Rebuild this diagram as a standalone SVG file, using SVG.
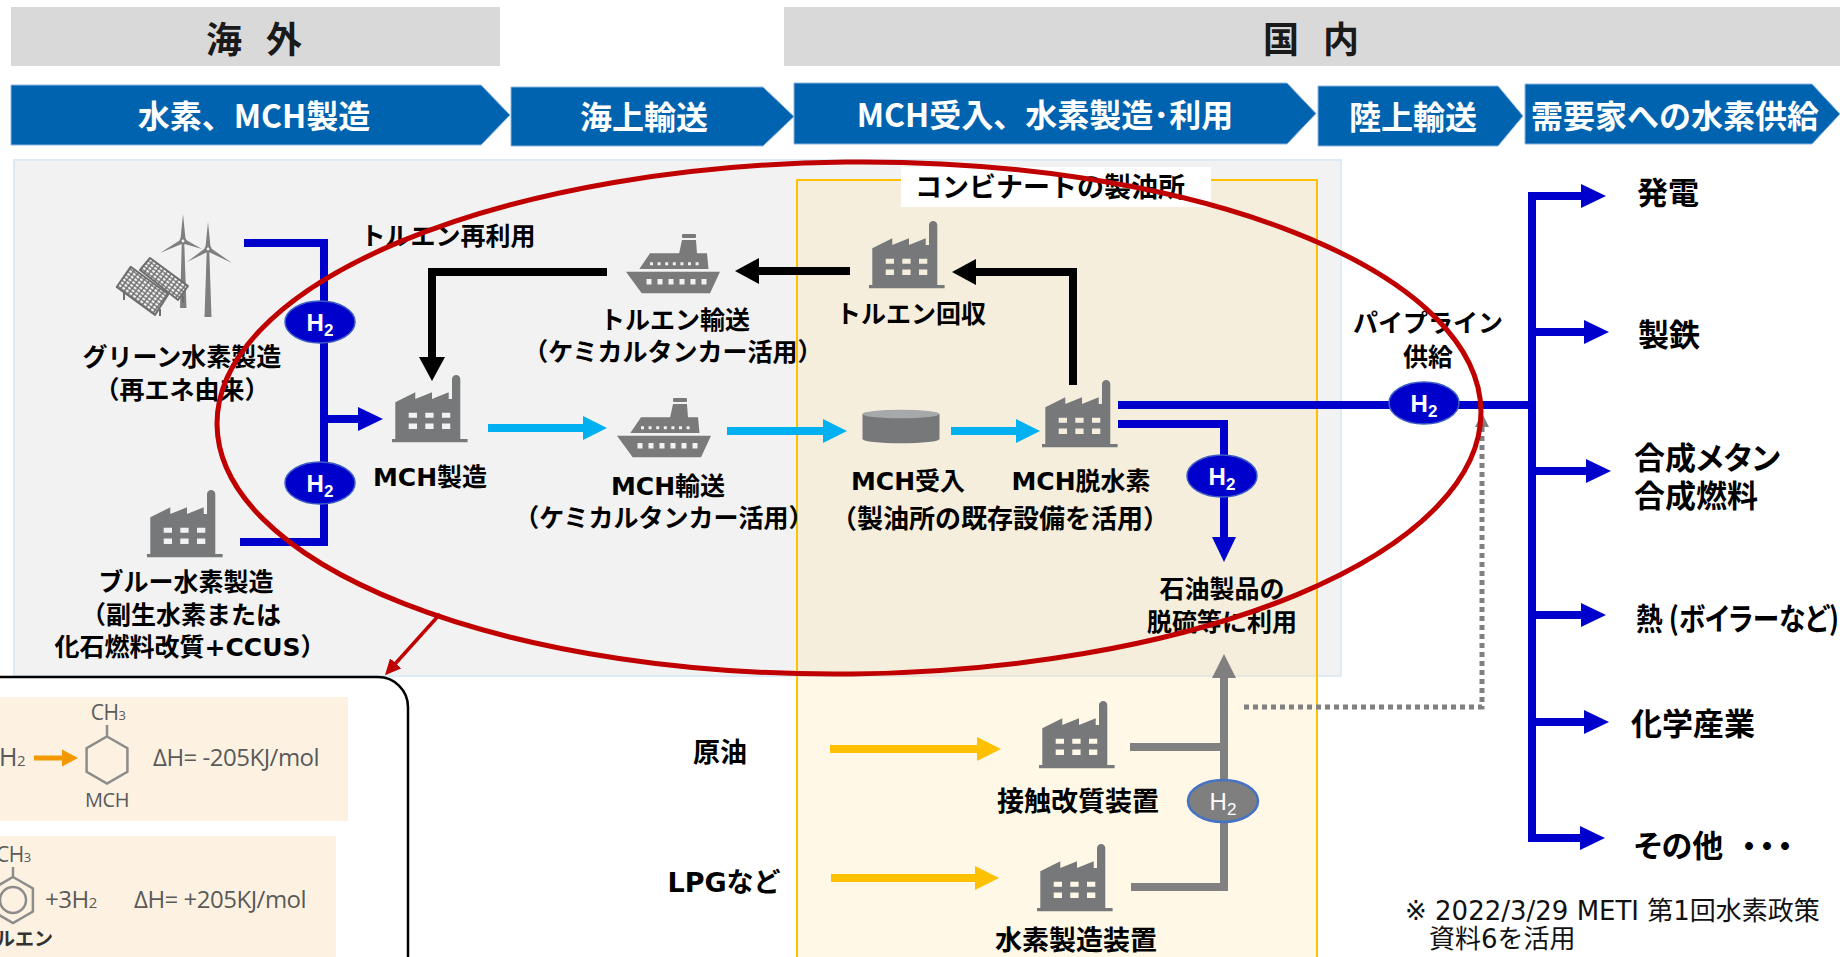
<svg xmlns="http://www.w3.org/2000/svg" width="1840" height="957" viewBox="0 0 1840 957">
  <defs>
    <style>
      text { font-family: "Noto Sans CJK JP", "Noto Sans", sans-serif; }
      .hdr { font-size: 36px; font-weight: 700; fill: #1a1a1a; text-anchor: middle; dominant-baseline: central; }
      .band { fill: #0063b0; stroke: #8db4e2; stroke-width: 1; }
      .bandt { font-size: 32px; font-weight: 700; fill: #fff; text-anchor: middle; dominant-baseline: central; }
      .lbl { font-family: "DejaVu Sans", "Noto Sans CJK JP", sans-serif; font-size: 25px; font-weight: 700; fill: #000; text-anchor: middle; dominant-baseline: central; }
      .lbl27 { font-size: 27px; }
      .use { font-size: 31px; font-weight: 700; fill: #000; dominant-baseline: central; font-feature-settings: "palt"; }
      .note { font-family: "DejaVu Sans", "Noto Sans CJK JP", sans-serif; font-size: 26px; fill: #111; }
      .icon { fill: #76787a; fill-rule: evenodd; }
      .ln { fill: none; stroke-width: 8; stroke-linejoin: miter; stroke-linecap: butt; }
      .blue { stroke: #0000cc; }
      .black { stroke: #000; }
      .cyan { stroke: #00b0f0; }
      .yellow { stroke: #ffc000; }
      .gray { stroke: #808080; }
      .h2 { fill: #0000cc; stroke: #3b5cc4; stroke-width: 1.5; }
      .h2g { fill: #7f7f7f; stroke: #4472c4; stroke-width: 2.5; }
      .h2t { font-family: "Liberation Sans", Arial, sans-serif; font-size: 24px; font-weight: 700; fill: #fff; text-anchor: middle; }
      .h2gt { font-family: "Liberation Sans", Arial, sans-serif; font-size: 24px; font-weight: 400; fill: #fff; text-anchor: middle; }
      .sub { font-size: 17px; }
      .rx { font-family: "Open Sans", "Noto Sans", sans-serif; font-size: 24px; fill: #5a5a5a; letter-spacing: -0.5px; }
      .rxs { font-size: 15px; }
      .ring { fill: none; stroke: #8c8c8c; stroke-width: 2.5; }
    </style>

    <marker id="ah-blue" viewBox="0 0 25 24" markerWidth="25" markerHeight="24" refX="1" refY="12" orient="auto" markerUnits="userSpaceOnUse">
      <path d="M0,0 L25,12 L0,24 Z" fill="#0000cc"/>
    </marker>
    <marker id="ah-black" viewBox="0 0 24 26" markerWidth="24" markerHeight="26" refX="1" refY="13" orient="auto" markerUnits="userSpaceOnUse">
      <path d="M0,0 L24,13 L0,26 Z" fill="#000"/>
    </marker>
    <marker id="ah-cyan" viewBox="0 0 24 24" markerWidth="24" markerHeight="24" refX="1" refY="12" orient="auto" markerUnits="userSpaceOnUse">
      <path d="M0,0 L24,12 L0,24 Z" fill="#00b0f0"/>
    </marker>
    <marker id="ah-yellow" viewBox="0 0 24 24" markerWidth="24" markerHeight="24" refX="1" refY="12" orient="auto" markerUnits="userSpaceOnUse">
      <path d="M0,0 L24,12 L0,24 Z" fill="#ffc000"/>
    </marker>
    <marker id="ah-gray" viewBox="0 0 24 24" markerWidth="24" markerHeight="24" refX="1" refY="12" orient="auto" markerUnits="userSpaceOnUse">
      <path d="M0,0 L24,12 L0,24 Z" fill="#808080"/>
    </marker>
    <marker id="ah-dot" viewBox="0 0 14 14" markerWidth="14" markerHeight="14" refX="1" refY="7" orient="auto" markerUnits="userSpaceOnUse">
      <path d="M0,0 L14,7 L0,14 Z" fill="#808080"/>
    </marker>
    <marker id="ah-red" viewBox="0 0 16 15" markerWidth="16" markerHeight="15" refX="1" refY="7.5" orient="auto" markerUnits="userSpaceOnUse">
      <path d="M0,0 L16,7.5 L0,15 Z" fill="#c00000"/>
    </marker>

    <!-- solar cell grid -->
    <pattern id="pv-cells" width="4.5" height="3.5" patternUnits="userSpaceOnUse" patternTransform="rotate(37)">
      <rect width="4.5" height="3.5" fill="#6e6e6e"/>
      <rect x="0.8" y="0.7" width="3" height="2.2" fill="#f4f4f4"/>
    </pattern>

    <!-- plant icon: sawtooth roof, chimney, two rows of windows -->
    <symbol id="plant" viewBox="0 0 76 68" width="76" height="68">
      <path class="icon" d="M0,64 H3.3 V27.3 L23.3,17.3 V24 L40,17.3 V24 L56.7,17.3 V24 H60 V4.2 A4.15,4.15 0 0 1 68.3,4.2 V64 H75.6 V67.3 H0 Z
        M16.7,37.7 h8.3 v5 h-8.3 Z M33.3,37.7 h8.3 v5 h-8.3 Z M50,37.7 h8.3 v5 h-8.3 Z
        M16.7,48.5 h8.3 v5.5 h-8.3 Z M33.3,48.5 h8.3 v5.5 h-8.3 Z M50,48.5 h8.3 v5.5 h-8.3 Z"/>
    </symbol>

    <!-- tanker icon -->
    <symbol id="tanker" viewBox="0 0 94 60" width="94" height="60">
      <g fill="#7a7a7a" fill-rule="evenodd">
        <rect x="56" y="0" width="14" height="4" rx="1"/>
        <polygon points="53,20 56,6 70,6 71,20"/>
        <path d="M13.3,35 L24,19.3 H81 L82.5,35 Z
          M24,28.3 h3 v3 h-3 Z M31.6,28.3 h3 v3 h-3 Z M39.2,28.3 h3 v3 h-3 Z M46.8,28.3 h3 v3 h-3 Z
          M54.4,28.3 h3 v3 h-3 Z M62,28.3 h3 v3 h-3 Z M69.6,28.3 h3 v3 h-3 Z"/>
        <path d="M0,37.7 H94 L84,59.3 H15.7 Z
          M20.5,45 h5 v5.5 h-5 Z M31.5,45 h5 v5.5 h-5 Z M42.5,45 h5 v5.5 h-5 Z
          M53.5,45 h5 v5.5 h-5 Z M64.5,45 h5 v5.5 h-5 Z M75.5,45 h5 v5.5 h-5 Z"/>
      </g>
    </symbol>
  </defs>

  <rect width="1840" height="957" fill="#fff"/>

  <!-- region headers -->
  <g id="header-overseas">
    <rect x="11" y="7" width="489" height="59" fill="#d9d9d9"/>
    <text class="hdr" x="258" y="37" letter-spacing="8">海 外</text>
  </g>
  <g id="header-domestic">
    <rect x="784" y="7" width="1056" height="59" fill="#d9d9d9"/>
    <text class="hdr" x="1315" y="37" letter-spacing="8">国 内</text>
  </g>

  <!-- process stages -->
  <g id="stage-production">
    <polygon class="band" points="11,85 481,85 510,115 481,145 11,145"/>
    <text class="bandt" x="254" y="114">水素、MCH製造</text>
  </g>
  <g id="stage-sea">
    <polygon class="band" points="511,87 763,87 794,116.5 763,146 511,146"/>
    <text class="bandt" x="644" y="115">海上輸送</text>
  </g>
  <g id="stage-refinery">
    <polygon class="band" points="794,83 1287,83 1316,113.5 1287,144 794,144"/>
    <text class="bandt" x="1045" y="113">MCH受入、水素製造･利用</text>
  </g>
  <g id="stage-land">
    <polygon class="band" points="1318,86 1498,86 1523,116 1498,146 1318,146"/>
    <text class="bandt" x="1413" y="115">陸上輸送</text>
  </g>
  <g id="stage-demand">
    <polygon class="band" points="1525,84 1812,84 1840,114 1812,144 1525,144"/>
    <text class="bandt" x="1675" y="114">需要家への水素供給</text>
  </g>

  <!-- supply chain area and refinery complex -->
  <g id="chain-area">
    <rect x="14" y="160" width="1327" height="516" fill="#f2f2f2" stroke="#ddebf7" stroke-width="2"/>
  </g>
  <g id="refinery-complex">
    <rect x="797" y="180" width="520" height="800" fill="#ffe49a" fill-opacity="0.25" stroke="#ffc000" stroke-width="2"/>
    <rect x="901" y="167" width="310" height="40" fill="#fff"/>
    <text class="lbl" x="1050" y="187" style="font-size:27px">コンビナートの製油所</text>
  </g>

  <!-- connectors -->
  <g id="connectors">
    <!-- hydrogen into MCH production -->
    <path class="ln blue" d="M244,243 H324 V542 H240"/>
    <path class="ln blue" d="M324,419 H359" marker-end="url(#ah-blue)"/>
    <!-- toluene return loop -->
    <path class="ln black" d="M607,272 H432 V358" marker-end="url(#ah-black)"/>
    <path class="ln black" d="M850,271 H758" marker-end="url(#ah-black)"/>
    <path class="ln black" d="M1073,385 V272 H975" marker-end="url(#ah-black)"/>
    <!-- MCH flow -->
    <path class="ln cyan" d="M488,428 H584" marker-end="url(#ah-cyan)"/>
    <path class="ln cyan" d="M727,431 H824" marker-end="url(#ah-cyan)"/>
    <path class="ln cyan" d="M951,431 H1017" marker-end="url(#ah-cyan)"/>
    <!-- hydrogen out of dehydrogenation -->
    <path class="ln blue" d="M1118,405 H1532"/>
    <path class="ln blue" d="M1118,424 H1224 V538" marker-end="url(#ah-blue)"/>
    <!-- distribution trunk -->
    <path class="ln blue" d="M1532,192 V842"/>
    <path class="ln blue" d="M1528,196 H1582" marker-end="url(#ah-blue)"/>
    <path class="ln blue" d="M1528,332 H1585" marker-end="url(#ah-blue)"/>
    <path class="ln blue" d="M1528,471 H1587" marker-end="url(#ah-blue)"/>
    <path class="ln blue" d="M1528,615 H1582" marker-end="url(#ah-blue)"/>
    <path class="ln blue" d="M1528,722 H1585" marker-end="url(#ah-blue)"/>
    <path class="ln blue" d="M1528,838 H1581" marker-end="url(#ah-blue)"/>
    <!-- crude and LPG feeds -->
    <path class="ln yellow" d="M830,749 H978" marker-end="url(#ah-yellow)"/>
    <path class="ln yellow" d="M831,878 H976" marker-end="url(#ah-yellow)"/>
    <!-- existing refinery hydrogen -->
    <path class="ln gray" d="M1130,747 H1224"/>
    <path class="ln gray" d="M1131,887 H1224 V677" marker-end="url(#ah-gray)"/>
    <path fill="none" stroke="#808080" stroke-width="5" stroke-dasharray="5 4" d="M1244,707 H1482 V426" marker-end="url(#ah-dot)"/>
  </g>

  <!-- nodes -->
  <g id="green-hydrogen">
    <g fill="#7f7f7f">
      <polygon points="180,308 181.8,241 184.2,241 186.5,308"/>
      <polygon points="180.5,239 183,214 185.5,239"/>
      <polygon points="181.9,238.9 160,253 184.1,243.1"/>
      <polygon points="183.9,238.8 202,249 182.1,243.2"/>
      <circle cx="183" cy="241" r="3.5"/>
      <polygon points="204.5,317 206.8,249 209.2,249 211.5,317"/>
      <polygon points="205.5,247 208,222 210.5,247"/>
      <polygon points="206.7,247 187,262 209.3,251"/>
      <polygon points="209.2,247 232,263 206.8,251.1"/>
      <circle cx="208" cy="249" r="3.5"/>
    </g>
    <circle cx="183" cy="241" r="1.4" fill="#f2f2f2"/>
    <circle cx="208" cy="249" r="1.4" fill="#f2f2f2"/>
    <g stroke="#6e6e6e" stroke-width="2" stroke-linejoin="round">
      <line x1="183" y1="296" x2="183" y2="303"/>
      <line x1="160" y1="309" x2="160" y2="316"/>
      <line x1="124" y1="293" x2="124" y2="300"/>
      <polygon points="140,270 150,258 188,286 178,300" fill="url(#pv-cells)"/>
      <polygon points="116.7,287 130.7,266.7 168.3,294.3 155,315" fill="url(#pv-cells)"/>
    </g>
    <text class="lbl" x="182" y="357">グリーン水素製造</text>
    <text class="lbl" x="182" y="390">（再エネ由来）</text>
  </g>

  <g id="blue-hydrogen">
    <use href="#plant" x="147" y="490"/>
    <text class="lbl" x="186" y="582">ブルー水素製造</text>
    <text class="lbl" x="181" y="615">（副生水素または</text>
    <text class="lbl" x="190" y="647">化石燃料改質+CCUS）</text>
  </g>

  <g id="mch-production">
    <use href="#plant" x="392" y="375"/>
    <text class="lbl" x="430" y="477">MCH製造</text>
  </g>

  <g id="toluene-reuse-label">
    <text class="lbl" x="448" y="236">トルエン再利用</text>
  </g>

  <g id="toluene-shipping">
    <use href="#tanker" x="626" y="234"/>
    <text class="lbl" x="675" y="320">トルエン輸送</text>
    <text class="lbl" x="673" y="352">（ケミカルタンカー活用）</text>
  </g>

  <g id="mch-shipping">
    <use href="#tanker" x="617" y="398"/>
    <text class="lbl" x="668" y="486">MCH輸送</text>
    <text class="lbl" x="664" y="518">（ケミカルタンカー活用）</text>
  </g>

  <g id="toluene-recovery">
    <use href="#plant" x="869" y="221"/>
    <text class="lbl" x="911" y="314">トルエン回収</text>
  </g>

  <g id="mch-receiving">
    <ellipse cx="901" cy="439" rx="38.5" ry="4.3" fill="#76787a"/>
    <rect x="862.5" y="414" width="77" height="25" fill="#76787a"/>
    <ellipse cx="901" cy="414" rx="38.5" ry="4.3" fill="#a6a8aa"/>
    <text class="lbl" x="908" y="481">MCH受入</text>
  </g>

  <g id="mch-dehydrogenation">
    <use href="#plant" x="1042" y="380"/>
    <text class="lbl" x="1081" y="481">MCH脱水素</text>
    <text class="lbl" x="1000" y="519" style="font-size:26px">（製油所の既存設備を活用）</text>
  </g>

  <g id="desulfurization">
    <text class="lbl" x="1222" y="589">石油製品の</text>
    <text class="lbl" x="1222" y="622">脱硫等に利用</text>
  </g>

  <g id="pipeline-label">
    <text class="lbl" x="1428" y="323">パイプライン</text>
    <text class="lbl" x="1428" y="357">供給</text>
  </g>

  <g id="crude-oil">
    <text class="lbl lbl27" x="720" y="752">原油</text>
  </g>
  <g id="lpg">
    <text class="lbl lbl27" x="724" y="882">LPGなど</text>
  </g>
  <g id="catalytic-reformer">
    <use href="#plant" x="1039" y="701"/>
    <text class="lbl lbl27" x="1078" y="801">接触改質装置</text>
  </g>
  <g id="hydrogen-plant">
    <use href="#plant" x="1037" y="844"/>
    <text class="lbl lbl27" x="1076" y="940">水素製造装置</text>
  </g>

  <!-- hydrogen tags on the lines -->
  <g id="h2-green">
    <ellipse class="h2" cx="320" cy="322" rx="35" ry="21"/>
    <text class="h2t" x="320" y="330.6">H<tspan class="sub" dy="5">2</tspan></text>
  </g>
  <g id="h2-blue">
    <ellipse class="h2" cx="320" cy="483" rx="35" ry="21"/>
    <text class="h2t" x="320" y="491.6">H<tspan class="sub" dy="5">2</tspan></text>
  </g>
  <g id="h2-refinery">
    <ellipse class="h2" cx="1222" cy="476" rx="35" ry="21"/>
    <text class="h2t" x="1222" y="484.6">H<tspan class="sub" dy="5">2</tspan></text>
  </g>
  <g id="h2-pipeline">
    <ellipse class="h2" cx="1424" cy="403" rx="35" ry="21"/>
    <text class="h2t" x="1424" y="411.6">H<tspan class="sub" dy="5">2</tspan></text>
  </g>
  <g id="h2-existing">
    <ellipse class="h2g" cx="1223" cy="801" rx="35" ry="21"/>
    <text class="h2gt" x="1223" y="809.6">H<tspan class="sub" dy="5">2</tspan></text>
  </g>

  <!-- end uses -->
  <g id="use-power"><text class="use" x="1637" y="190">発電</text></g>
  <g id="use-steel"><text class="use" x="1638" y="332">製鉄</text></g>
  <g id="use-synfuel">
    <text class="use" x="1634" y="455">合成メタン</text>
    <text class="use" x="1634" y="493">合成燃料</text>
  </g>
  <g id="use-heat"><text class="use" x="1636" y="616" textLength="203" lengthAdjust="spacingAndGlyphs">熱 (ボイラーなど)</text></g>
  <g id="use-chemical"><text class="use" x="1631" y="721">化学産業</text></g>
  <g id="use-other">
    <text class="use" x="1634" y="843">その他</text>
    <text x="1733.5 1751.5 1769.5" y="843" style="font-size:31px;font-weight:700;fill:#000;dominant-baseline:central">・・・</text>
  </g>

  <!-- source note -->
  <g id="source-note">
    <text class="note" x="1405" y="920">※ 2022/3/29 METI 第1回水素政策</text>
    <text class="note" x="1429" y="948">資料6を活用</text>
  </g>

  <!-- reaction callout -->
  <g id="reaction-callout">
    <rect x="0" y="697" width="348" height="124" fill="#fdf2e2"/>
    <rect x="0" y="836" width="336" height="130" fill="#fdf2e2"/>
    <!-- hydrogenation -->
    <text class="rx" x="-1" y="766" style="font-size:25px">H<tspan class="rxs">2</tspan></text>
    <path d="M34,758 H64" stroke="#f39800" stroke-width="5" fill="none"/>
    <polygon points="62,749.5 78,758 62,766.5" fill="#f39800"/>
    <polygon class="ring" points="107,736.5 127.4,748.25 127.4,771.75 107,783.5 86.6,771.75 86.6,748.25"/>
    <line x1="107" y1="736.5" x2="107" y2="725" stroke="#8c8c8c" stroke-width="2.5"/>
    <text class="rx" x="108" y="720" text-anchor="middle" style="font-size:21px">CH<tspan class="rxs" style="font-size:13px">3</tspan></text>
    <text class="rx" x="107" y="807" text-anchor="middle" style="font-size:20px">MCH</text>
    <text class="rx" x="153" y="766">ΔH= -205KJ/mol</text>
    <!-- dehydrogenation -->
    <text class="rx" x="-4" y="862" style="font-size:21px">CH<tspan class="rxs" style="font-size:13px">3</tspan></text>
    <line x1="13" y1="877" x2="13" y2="867" stroke="#8c8c8c" stroke-width="2.5"/>
    <polygon class="ring" points="13,877 32.9,888.5 32.9,911.5 13,923 -6.9,911.5 -6.9,888.5"/>
    <circle class="ring" cx="13" cy="900" r="13"/>
    <text class="rx" x="45" y="908">+3H<tspan class="rxs">2</tspan></text>
    <text class="rx" x="134" y="908">ΔH= +205KJ/mol</text>
    <text x="53" y="946" text-anchor="end" style="font-size:19px;font-weight:700;fill:#333">トルエン</text>
    <path d="M-5,677 H378 A30,30 0 0 1 408,707 V965" fill="none" stroke="#000" stroke-width="2.5"/>
  </g>

  <!-- highlighted MCH chain -->
  <g id="mch-chain-highlight">
    <ellipse cx="849" cy="418" rx="632" ry="256" transform="rotate(-0.6 849 418)" fill="none" stroke="#c00000" stroke-width="5"/>
    <path d="M440,614 L395,664" fill="none" stroke="#c00000" stroke-width="3.5" marker-end="url(#ah-red)"/>
  </g>
</svg>
